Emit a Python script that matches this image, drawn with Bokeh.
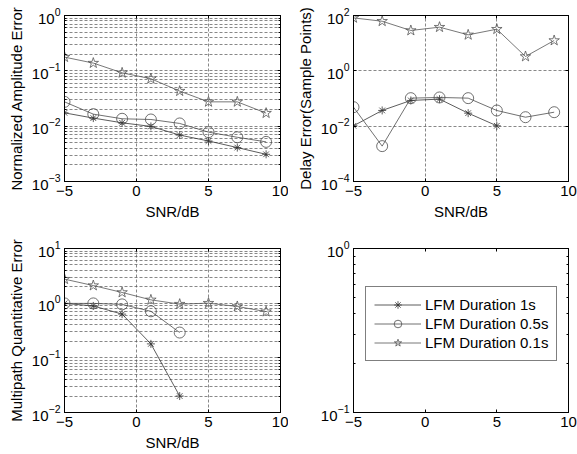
from bokeh.plotting import figure
from bokeh.layouts import column, row
from bokeh.models import (FixedTicker, LogAxis, LinearAxis, CustomJSTickFormatter,
                          Legend, LegendItem, ColumnDataSource, LogTickFormatter)
from bokeh.embed import file_html
from bokeh.resources import INLINE

# ---------------- data ----------------
snr = [-5, -3, -1, 1, 3, 5, 7, 9]
labels = ["LFM Duration 1s", "LFM Duration 0.5s", "LFM Duration 0.1s"]

amp_1s = [0.0174, 0.0140, 0.0115, 0.0099, 0.0069, 0.0054, 0.0041, 0.0031]
amp_05s = [0.0275, 0.0165, 0.0136, 0.0132, 0.0112, 0.0078, 0.0063, 0.0052]
amp_01s = [0.177, 0.138, 0.092, 0.072, 0.043, 0.0275, 0.0275, 0.0172]

delay_snr_1s = [-5, -3, -1, 1, 3, 5]
delay_1s = [0.0103, 0.037, 0.085, 0.095, 0.0295, 0.0103]
delay_05s = [0.0486, 0.0019, 0.103, 0.109, 0.103, 0.0368, 0.0211, 0.032]
delay_01s = [82, 62, 28.7, 37.9, 20, 32, 3.3, 12.5]

multi_snr = [-5, -3, -1, 1, 3]
multi_1s = [0.99, 0.89, 0.63, 0.18, 0.020]
multi_05s = [0.99, 0.99, 0.95, 0.71, 0.29]
multi_01s = [2.75, 2.1, 1.57, 1.15, 0.96, 1.0, 0.87, 0.70]

x_ticks = [-5, 0, 5, 10]

FONT = "Liberation Sans"
FS = "15px"
GRID_COLOR = "#555555"
STYLES = [
    dict(marker="asterisk", size=8, color="#333333"),
    dict(marker="circle", size=11, color="#4d4d4d"),
    dict(marker="star", size=11, color="#555555"),
]


def minor_list(lo_exp, hi_exp):
    out = []
    for e in range(lo_exp, hi_exp):
        for m in range(2, 10):
            out.append(m * 10.0 ** e)
    return out


def style_axis(ax, label=None):
    ax.axis_line_color = "black"
    ax.axis_line_width = 1
    ax.major_tick_in = 3
    ax.major_tick_out = 0
    ax.minor_tick_in = 2
    ax.minor_tick_out = 0
    ax.major_tick_line_color = "black"
    ax.minor_tick_line_color = "black"
    ax.major_label_text_font = FONT
    ax.major_label_text_font_size = FS
    ax.major_label_text_color = "black"
    ax.major_label_standoff = 4
    if label is not None:
        ax.axis_label = label
        ax.axis_label_text_font = FONT
        ax.axis_label_text_font_size = FS
        ax.axis_label_text_font_style = "normal"
        ax.axis_label_text_color = "black"
        ax.axis_label_standoff = 4


def make_fig(w, h, bl, br, bt, bb, yr, yticks, yminor, ylabel, xlabel, grid=True, minor_grid=True):
    p = figure(width=w, height=h, x_range=(-5, 10), y_range=yr, y_axis_type="log",
               output_backend="svg", toolbar_location=None,
               min_border_left=bl, min_border_right=br, min_border_top=bt, min_border_bottom=bb,
               background_fill_color="white", border_fill_color="white")
    yt = FixedTicker(ticks=yticks, minor_ticks=yminor)
    xt = FixedTicker(ticks=x_ticks, minor_ticks=[])
    p.yaxis.ticker = yt
    p.xaxis.ticker = xt
    p.yaxis.formatter = LogTickFormatter()
    style_axis(p.yaxis[0], ylabel)
    style_axis(p.xaxis[0], xlabel)
    p.outline_line_color = "black"
    p.outline_line_width = 1
    # mirrored ticks on right / top
    ra = LogAxis(ticker=yt, formatter=CustomJSTickFormatter(code="return ''"))
    style_axis(ra)
    ra.major_label_standoff = 0
    p.add_layout(ra, "right")
    ta = LinearAxis(ticker=xt, formatter=CustomJSTickFormatter(code="return ''"))
    style_axis(ta)
    ta.major_label_standoff = 0
    p.add_layout(ta, "above")
    if grid:
        for g in (p.xgrid[0], p.ygrid[0]):
            g.grid_line_color = GRID_COLOR
            g.grid_line_dash = "3 2"
            g.grid_line_width = 0.7
        if minor_grid:
            p.ygrid[0].minor_grid_line_color = GRID_COLOR
            p.ygrid[0].minor_grid_line_dash = "3 2"
            p.ygrid[0].minor_grid_line_width = 0.7
    else:
        p.xgrid.visible = False
        p.ygrid.visible = False
    return p


def draw(p, xs, ys, st):
    src = ColumnDataSource(dict(x=xs, y=ys))
    l = p.line("x", "y", source=src, line_color=st["color"], line_width=0.8)
    m = p.scatter("x", "y", source=src, marker=st["marker"], size=st["size"],
                  line_color=st["color"], fill_color=None, line_width=0.8)
    return l, m


# top-left
p1 = make_fig(288, 225, 64, 8, 15, 44, (1e-3, 1), [1e-3, 1e-2, 1e-1, 1], minor_list(-3, 0),
              "Normalized Amplitude Error", "SNR/dB")
draw(p1, snr, amp_1s, STYLES[0])
draw(p1, snr, amp_05s, STYLES[1])
draw(p1, snr, amp_01s, STYLES[2])

# top-right
p2 = make_fig(289, 225, 65, 9, 15, 44, (1e-4, 1e2), [1e-4, 1e-2, 1, 1e2], [],
              "Delay Error(Sample Points)", "SNR/dB", minor_grid=False)
draw(p2, delay_snr_1s, delay_1s, STYLES[0])
draw(p2, snr, delay_05s, STYLES[1])
draw(p2, snr, delay_01s, STYLES[2])

# bottom-left
p3 = make_fig(288, 229, 64, 8, 23, 42, (1e-2, 1e1), [1e-2, 1e-1, 1, 1e1], minor_list(-2, 1),
              "Multipath Quantitative Error", "SNR/dB")
draw(p3, multi_snr, multi_1s, STYLES[0])
draw(p3, multi_snr, multi_05s, STYLES[1])
draw(p3, snr, multi_01s, STYLES[2])

# bottom-right (legend only; renderers hold a single NaN point so nothing is plotted)
p4 = make_fig(289, 229, 65, 9, 23, 42, (1e-1, 1), [1e-1, 1], minor_list(-1, 0),
              None, None, grid=False)
items = []
nan = float("nan")
for lab, st in zip(labels, STYLES):
    l, m = draw(p4, [nan], [nan], st)
    items.append(LegendItem(label=lab, renderers=[l, m]))
leg = Legend(items=items, location=(12, 51), orientation="vertical",
             label_text_font=FONT, label_text_font_size="15px", label_text_color="black",
             glyph_width=47, glyph_height=19, label_height=19, label_standoff=4,
             padding=8, spacing=0, margin=0,
             border_line_color="black", border_line_width=1,
             background_fill_color="white", background_fill_alpha=1)
p4.add_layout(leg, "center")

layout = column(row(p1, p2), row(p3, p4))
open("out.html", "w").write(file_html(layout, INLINE))
